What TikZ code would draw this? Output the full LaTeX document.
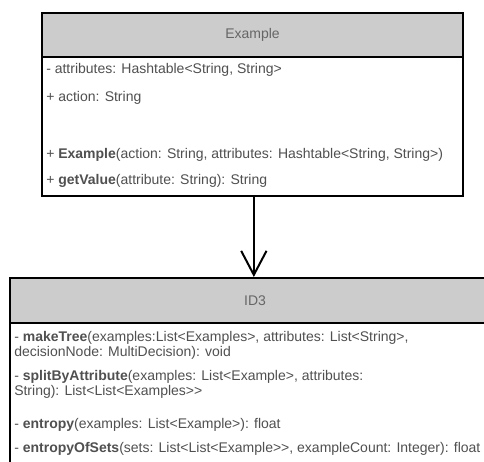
\documentclass[tikz,border=0pt]{standalone}
\usepackage{fontspec}
\setmainfont{Liberation Sans}
\usetikzlibrary{arrows.meta,positioning}
\definecolor{headgray}{RGB}{204,204,204}
\definecolor{headtext}{RGB}{102,102,102}
\definecolor{membertext}{RGB}{80,80,80}

\begin{document}
\begin{tikzpicture}[x=0.75pt,y=-0.75pt,
  classhead/.style={draw,line width=1.5pt,fill=headgray,text=headtext,anchor=north west,font=\fontsize{10.5}{12}\selectfont},
  classbody/.style={draw,line width=1.5pt,fill=white,anchor=north west},
  member/.style={anchor=west,inner sep=0pt,text=membertext,align=left,font=\fontsize{10.5}{11.25}\selectfont},
  uses/.style={line width=1.5pt,-{Straight Barb[length=18pt,width=19pt]}}]
  \useasboundingbox (0,0) rectangle (484,461);
  \clip (0,0) rectangle (484,461);

  % class Example
  \node[classbody,minimum width=421*0.75pt,minimum height=139*0.75pt] (exBody) at (41,56) {};
  \node[classhead,minimum width=421*0.75pt,minimum height=44*0.75pt] (exHead) at (41,12) {Example};
  \node[member] (exAttr) at (46,70) {- attributes: Hashtable<String, String>};
  \node[member] (exAction) at (46,98) {+ action: String};
  \node[member] (exCtor) at (46,155) {+ \textbf{Example}(action: String, attributes: Hashtable<String, String>)};
  \node[member] (exGet) at (46,181) {+ \textbf{getValue}(attribute: String): String};

  % class ID3
  \node[classbody,minimum width=490*0.75pt,minimum height=160*0.75pt] (idBody) at (9,322) {};
  \node[classhead,minimum width=490*0.75pt,minimum height=45*0.75pt] (idHead) at (9,277) {ID3};
  \node[member] (idTree) at (14,345.5) {- \textbf{makeTree}(examples:List<Examples>, attributes: List<String>,\\decisionNode: MultiDecision): void};
  \node[member] (idSplit) at (14,384) {- \textbf{splitByAttribute}(examples: List<Example>, attributes:\\String): List<List<Examples>{}>};
  \node[member] (idEntropy) at (14,425) {- \textbf{entropy}(examples: List<Example>): float};
  \node[member] (idSets) at (14,449) {- \textbf{entropyOfSets}(sets: List<List<Example>{}>, exampleCount: Integer): float};

  % association
  \draw[uses] ([xshift=1pt]exBody.south) -- ([xshift=1pt]exBody.south |- idHead.north);
\end{tikzpicture}
\end{document}
